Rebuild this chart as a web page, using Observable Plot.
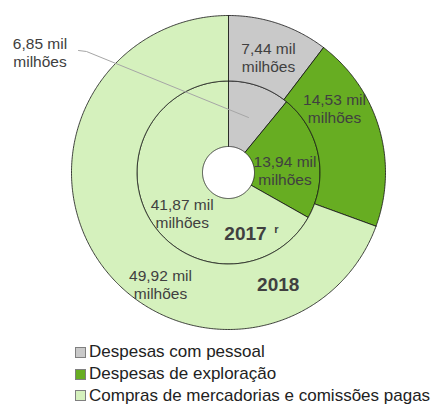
<!DOCTYPE html>
<html><head><meta charset="utf-8">
<script src="https://cdn.jsdelivr.net/npm/d3@7"></script>
<script src="https://cdn.jsdelivr.net/npm/@observablehq/plot@0.6"></script>
<style>
body{margin:0;background:#fff;font-family:"Liberation Sans",Arial,sans-serif;}
#chart{width:435px;height:404px;position:relative;overflow:hidden}
#chart svg{position:absolute;left:0;top:0}
.legend{position:absolute;left:75px;top:341px;font-size:17px;color:#222;}
.legend div{display:flex;align-items:center;height:22px;white-space:nowrap}
.legend div:last-child{height:21px}
.sw{width:9px;height:9px;border:1px solid #7f7f7f;margin-right:3px;flex:none}
</style></head><body><div id="chart"></div>
<script>
// ---- data ----
const categories = ["Despesas com pessoal", "Despesas de exploração", "Compras de mercadorias e comissões pagas"];
const values2017 = [6.85, 13.94, 41.87];
const values2018 = [7.44, 14.53, 49.92];
const yearLabels = ["2017", "2018"];
const yearNote = "r";
const unit = "mil\nmilhões";

// ---- styles / layout ----
const colors = ["#c9c9c9", "#67ad22", "#d5f1bd"];
const rings = [{values: values2017, r0: 26, r1: 91.5}, {values: values2018, r0: 91.5, r1: 157}];
// label anchor offsets (pixels from the centre, y up) for [ring][slice]
const labelPos = [
  [[-188.5, 120.7], [56.5, 2], [-46.3, -41]],
  [[40, 115.5], [106, 64.5], [-68, -111.8]]
];
const yearPos = [[17, -61], [49.7, -112]];
const notePos = [48, -57];
const leader = [[-150, 122], [-142, 121], [20, 55]];

const fmt = v => d3.format(".2f")(v).replace(".", ",");

const marks = [];
const labels = [];
rings.forEach((ring, ri) => {
  const total = d3.sum(ring.values);
  let acc = 0;
  ring.values.forEach((v, si) => {
    const a0 = acc / total * 2 * Math.PI;
    acc += v;
    const a1 = acc / total * 2 * Math.PI;
    const n = Math.max(4, Math.ceil((a1 - a0) / 0.01));
    const pts = [];
    for (let i = 0; i <= n; i++) {
      const a = a0 + (a1 - a0) * i / n;
      pts.push({x: ring.r1 * Math.sin(a), y: ring.r1 * Math.cos(a)});
    }
    for (let i = n; i >= 0; i--) {
      const a = a0 + (a1 - a0) * i / n;
      pts.push({x: ring.r0 * Math.sin(a), y: ring.r0 * Math.cos(a)});
    }
    pts.push(pts[0]);
    marks.push(Plot.line(pts, {x: "x", y: "y", fill: colors[si], stroke: "#111", strokeWidth: 0.8, curve: "linear"}));
    labels.push({x: labelPos[ri][si][0], y: labelPos[ri][si][1], text: fmt(v) + " " + unit});
  });
});

marks.push(Plot.line(leader.map(([x, y]) => ({x, y})), {x: "x", y: "y", stroke: "#a6a6a6", strokeWidth: 1}));
marks.push(Plot.text(labels, {x: "x", y: "y", text: "text", fontSize: 15.5, fill: "#404040", lineHeight: 1.16, fontFamily: "Liberation Sans, Arial, sans-serif"}));
marks.push(Plot.text(yearLabels.map((t, i) => ({x: yearPos[i][0], y: yearPos[i][1], t})), {x: "x", y: "y", text: "t", fontSize: 19, fontWeight: "bold", fill: "#404040", fontFamily: "Liberation Sans, Arial, sans-serif"}));
marks.push(Plot.text([{x: notePos[0], y: notePos[1], t: yearNote}], {x: "x", y: "y", text: "t", fontSize: 11, fontWeight: "bold", fill: "#404040", fontFamily: "Liberation Sans, Arial, sans-serif"}));

const svg = Plot.plot({
  width: 435, height: 342, margin: 0,
  x: {domain: [-228, 207], axis: null},
  y: {domain: [-170, 172], axis: null},
  marks
});
const chart = document.getElementById("chart");
chart.appendChild(svg);

const leg = document.createElement("div");
leg.className = "legend";
categories.forEach((c, i) => {
  const row = document.createElement("div");
  const sw = document.createElement("span");
  sw.className = "sw";
  sw.style.background = colors[i];
  row.appendChild(sw);
  row.appendChild(document.createTextNode(c));
  leg.appendChild(row);
});
chart.appendChild(leg);
</script>
</body></html>
